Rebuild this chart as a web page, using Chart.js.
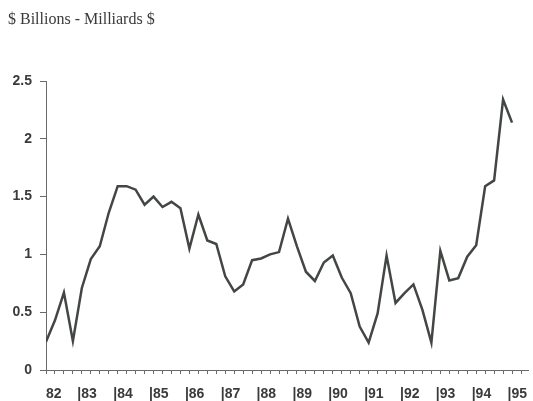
<!DOCTYPE html>
<html>
<head>
<meta charset="utf-8">
<script src="https://cdn.jsdelivr.net/npm/chart.js@4"></script>
<style>
  body { margin: 0; background: #fff; }
  #chart { display: block; }
</style>
</head>
<body>
<canvas id="chart" width="533" height="401"></canvas>
<script>
// Quarterly values, 82 Q1 .. 95 Q1 ($ billions)
const years = ['82', '83', '84', '85', '86', '87', '88', '89', '90', '91', '92', '93', '94', '95'];
const values = [
    0.245, 0.43, 0.67, 0.25,
    0.71, 0.96, 1.07, 1.36,
    1.59, 1.59, 1.56, 1.43,
    1.50, 1.41, 1.455, 1.40,
    1.05, 1.345, 1.12, 1.09,
    0.81, 0.68, 0.74, 0.95,
    0.965, 1.0, 1.02, 1.31,
    1.07, 0.85, 0.77, 0.93,
    0.99, 0.80, 0.665, 0.375,
    0.237, 0.49, 0.99, 0.58,
    0.665, 0.74, 0.52, 0.237,
    1.03, 0.775, 0.795, 0.98,
    1.08, 1.59, 1.64, 2.34,
    2.14
];
const yTicks = [0, 0.5, 1, 1.5, 2, 2.5];
const titleText = '$ Billions - Milliards $';

const textColor = '#3a3a3a';
const lineColor = '#434743';
const axisColor = '#6a6a6a';

// x ticks: one mark per quarter, plus a label at each year start
const yearStart = {};
years.forEach((y, i) => {
    const pos = i === 0 ? 0 : i * 4 - 0.5;
    yearStart[pos] = i === 0 ? y : '|' + y;
});

const ctx = document.getElementById('chart').getContext('2d');
new Chart(ctx, {
    type: 'line',
    data: {
        datasets: [{
            label: titleText,
            data: values.map((v, i) => ({ x: i, y: v })),
            borderColor: lineColor,
            borderWidth: 2.5,
            pointRadius: 0,
            tension: 0,
            fill: false
        }]
    },
    options: {
        responsive: false,
        animation: false,
        layout: {
            padding: { left: 8, right: 0, top: 0, bottom: 0 }
        },
        scales: {
            x: {
                type: 'linear',
                min: 0,
                max: 53.8,
                afterBuildTicks: (scale) => {
                    const t = [];
                    for (let i = 0; i <= 53; i++) t.push({ value: i });
                    Object.keys(yearStart).forEach(k => {
                        if (+k !== 0) t.push({ value: +k });
                    });
                    t.sort((a, b) => a.value - b.value);
                    scale.ticks = t;
                },
                afterFit: (scale) => { scale.height = 31; },
                grid: {
                    drawOnChartArea: false,
                    tickLength: 4,
                    tickColor: (c) => (c.tick && c.tick.value % 1 !== 0) ? 'rgba(0,0,0,0)' : axisColor
                },
                border: { color: axisColor, width: 1 },
                ticks: {
                    autoSkip: false,
                    maxRotation: 0,
                    align: 'start',
                    padding: 12,
                    color: textColor,
                    font: { family: 'Liberation Sans', size: 14, weight: 'bold' },
                    callback: (v) => yearStart[v] !== undefined ? yearStart[v] : ''
                }
            },
            y: {
                min: 0,
                max: 2.5,
                afterBuildTicks: (scale) => {
                    scale.ticks = yTicks.map(v => ({ value: v }));
                },
                afterFit: (scale) => { scale.width = 38; },
                grid: {
                    drawOnChartArea: false,
                    tickLength: 6,
                    tickColor: axisColor
                },
                border: { color: axisColor, width: 1 },
                ticks: {
                    padding: 8,
                    color: textColor,
                    font: { family: 'Liberation Sans', size: 14, weight: 'bold' },
                    callback: (v) => String(v)
                }
            }
        },
        plugins: {
            legend: { display: false },
            tooltip: { enabled: false },
            title: {
                display: true,
                text: titleText,
                align: 'start',
                color: textColor,
                font: { family: 'Liberation Serif', size: 16, weight: 'normal' },
                padding: { top: 10, bottom: 51.8 }
            }
        }
    }
});
</script>
</body>
</html>
